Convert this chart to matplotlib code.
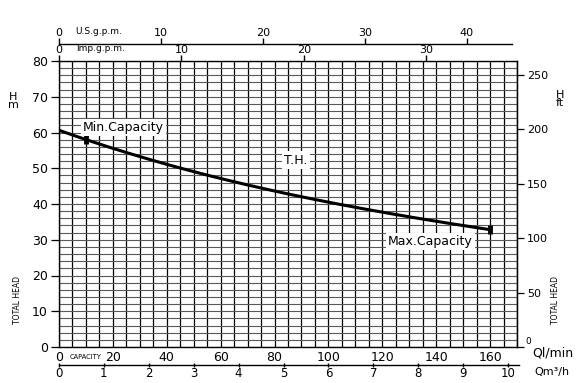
import numpy as np
import matplotlib
matplotlib.use('Agg')
import matplotlib.pyplot as plt
from matplotlib.ticker import MultipleLocator

# pump curve (Q in l/min, H in m)
q_lmin = [0, 10, 20, 40, 60, 80, 100, 120, 140, 160]
head_m = [60.5, 58.2, 55.6, 51.0, 47.2, 43.5, 40.6, 37.7, 35.2, 32.8]
q_min = 10
q_max = 160

ql_ticks = [0, 20, 40, 60, 80, 100, 120, 140, 160]
qm3_ticks = list(range(0, 11))
imp_ticks = [0, 10, 20, 30]
us_ticks = [0, 10, 20, 30, 40]
hm_ticks = [0, 10, 20, 30, 40, 50, 60, 70, 80]
hft_ticks = [0, 50, 100, 150, 200, 250]

plt.rcParams['font.family'] = 'DejaVu Sans'
fs = 8

fig = plt.figure(figsize=(5.82, 3.83), dpi=100)
ax = fig.add_axes([59/582, 1-347/383, (517-59)/582, (347-61)/383])
ax.set_xlim(0, 170)
ax.set_ylim(0, 80)

# grid
ax.xaxis.set_minor_locator(MultipleLocator(5))
ax.yaxis.set_minor_locator(MultipleLocator(2))
ax.grid(which='both', axis='x', color='black', lw=0.9)
ax.grid(which='both', axis='y', color='0.35', lw=0.8)
ax.set_axisbelow(True)
for s in ax.spines.values():
    s.set_linewidth(1.0)

ax.set_xticks(ql_ticks)
ax.set_xticklabels([str(t) for t in ql_ticks], fontsize=fs + 1)
ax.set_yticks(hm_ticks)
ax.set_yticklabels([str(t) for t in hm_ticks], fontsize=fs + 1)
ax.tick_params(axis='both', which='minor', length=0)
ax.tick_params(axis='x', which='major', length=0, pad=3)
ax.tick_params(axis='y', which='major', length=6, width=0.9, pad=2)

# curve
qq = np.array(q_lmin, float)
hh = np.array(head_m, float)
c = np.polyfit(qq, hh, 3)
xs = np.linspace(0, q_max, 200)
ax.plot(xs, np.polyval(c, xs), color='black', lw=2.2, solid_capstyle='butt', zorder=3)
for qv in (q_min, q_max):
    hv = np.polyval(c, qv)
    ax.plot([qv, qv], [hv - 1.3, hv + 1.3], color='black', lw=3.5, solid_capstyle='butt', zorder=4)

box = dict(facecolor='white', edgecolor='none', pad=1.5)
ax.text(9, 61.3, 'Min.Capacity', fontsize=fs + 1, va='center', ha='left', bbox=box, zorder=5)
ax.text(122, 29.5, 'Max.Capacity', fontsize=fs + 1, va='center', ha='left', bbox=box, zorder=5)
ax.text(88, 52.3, 'T.H.', fontsize=fs + 1, va='center', ha='center', bbox=box, zorder=5)
ax.text(10.0, -2.8, 'CAPACITY', fontsize=4.8, va='center', ha='center')

# top axes: Imp gpm and US gpm
imp = ax.secondary_xaxis('top', functions=(lambda x: x / 4.546, lambda x: x * 4.546))
imp.set_xticks(imp_ticks)
imp.set_xticklabels([str(t) for t in imp_ticks], fontsize=fs)
imp.tick_params(length=4, width=1, pad=0)
imp.spines['top'].set_visible(False)
ax.text(6.5, 82.2, 'Imp.g.p.m.', fontsize=fs - 1.5, va='bottom', ha='left')

us = ax.secondary_xaxis(1 + 17/286, functions=(lambda x: x / 3.785, lambda x: x * 3.785))
us.set_xticks(us_ticks)
us.set_xticklabels([str(t) for t in us_ticks], fontsize=fs)
us.tick_params(length=4, width=1, pad=0)
us.spines['top'].set_bounds(0, 44.4)
us.spines['top'].set_linewidth(1.0)
ax.text(6, 87.0, 'U.S.g.p.m.', fontsize=fs - 1.5, va='bottom', ha='left')

# bottom m3/h axis
qm = ax.secondary_xaxis(-18/286, functions=(lambda x: x * 0.06, lambda x: x / 0.06))
qm.set_xticks(qm3_ticks)
qm.set_xticklabels([str(t) for t in qm3_ticks], fontsize=fs + 0.5)
qm.tick_params(length=3, width=1, pad=0, direction='inout')
qm.spines['bottom'].set_bounds(0, 10.25)
qm.spines['bottom'].set_linewidth(1.0)

# right ft axis (the 0 label sits raised, drawn separately)
ft = ax.secondary_yaxis('right', functions=(lambda y: y * 3.2808, lambda y: y / 3.2808))
ft.set_yticks(hft_ticks)
ft.set_yticklabels([''] + [str(t) for t in hft_ticks[1:]], fontsize=fs)
ft.tick_params(length=5, width=0.9, pad=2)
fig.text(525/582, 1-342/383, '0', fontsize=fs - 1.5, ha='left', va='center')

# units and axis titles
fig.text(13/582, 1-101/383, 'H\nm', fontsize=fs, ha='center', va='center', linespacing=0.8)
fig.text(560/582, 1-99/383, 'H\nft', fontsize=fs, ha='center', va='center', linespacing=0.8)
fig.text(17/582, 1-300/383, 'TOTAL HEAD', fontsize=5.5, rotation=90, ha='center', va='center')
fig.text(555/582, 1-300/383, 'TOTAL HEAD', fontsize=5.5, rotation=90, ha='center', va='center')
fig.text(532/582, 1-353/383, 'Ql/min', fontsize=fs + 1, ha='left', va='center')
fig.text(534/582, 1-372/383, 'Qm³/h', fontsize=fs, ha='left', va='center')

fig.savefig('out.png', dpi=100)
